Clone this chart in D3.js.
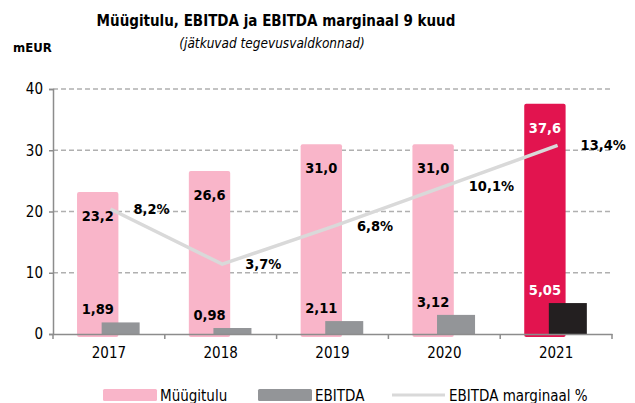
<!DOCTYPE html>
<html>
<head>
<meta charset="utf-8">
<script src="https://cdn.jsdelivr.net/npm/d3@7"></script>
<style>
  body { margin: 0; background: #fff; }
  text { font-family: "DejaVu Sans Condensed", "DejaVu Sans", sans-serif; }
</style>
</head>
<body>
<script>
const years = ["2017", "2018", "2019", "2020", "2021"];
const revenue = [23.2, 26.6, 31.0, 31.0, 37.6];
const ebitda = [1.89, 0.98, 2.11, 3.12, 5.05];
const margin_pct = [8.2, 3.7, 6.8, 10.1, 13.4];
const y_ticks = [0, 10, 20, 30, 40];
const legend_items = ["Müügitulu", "EBITDA", "EBITDA marginaal %"];

const width = 635;
const height = 403;
const margin = { top: 89, right: 23, bottom: 69, left: 53 };

const fmt = (v, d) => v.toFixed(d).replace(".", ",");

const svg = d3.select("body")
  .append("svg")
  .attr("width", width)
  .attr("height", height);

// scales
const xScale = d3.scaleBand()
  .domain(years)
  .range([margin.left, width - margin.right]);
const yScale = d3.scaleLinear()
  .domain([0, 40])
  .range([height - margin.bottom, margin.top]);
// hidden secondary axis for the margin line
const y2Scale = d3.scaleLinear()
  .domain([-2, 18])
  .range([height - margin.bottom, margin.top]);

const bw = xScale.bandwidth();
const pinkW = bw * 0.37;
const grayW = bw * 0.34;
const pinkX = (d) => xScale(d) + bw / 2 - bw * 0.1 - pinkW / 2;
const grayX = (d) => xScale(d) + bw / 2 + bw * 0.105 - grayW / 2;
const ptX = (d) => xScale(d) + bw / 2 + 1.5;

// gridlines
svg.append("g")
  .selectAll("line")
  .data(y_ticks.filter((t) => t > 0))
  .join("line")
  .attr("x1", margin.left)
  .attr("x2", width - margin.right)
  .attr("y1", (d) => yScale(d))
  .attr("y2", (d) => yScale(d))
  .attr("stroke", "#b0b0b0")
  .attr("stroke-width", 1.3)
  .attr("stroke-dasharray", "5,3");

// revenue bars
svg.append("g")
  .selectAll("rect")
  .data(years)
  .join("rect")
  .attr("x", (d) => pinkX(d))
  .attr("y", (d, i) => yScale(revenue[i]))
  .attr("width", pinkW)
  .attr("height", (d, i) => yScale(0) - yScale(revenue[i]) + 3)
  .attr("rx", 2)
  .attr("fill", (d, i) => (i === years.length - 1 ? "#e2144f" : "#f9b5c9"));

// ebitda bars
svg.append("g")
  .selectAll("rect")
  .data(years)
  .join("rect")
  .attr("x", (d) => grayX(d))
  .attr("y", (d, i) => yScale(ebitda[i]))
  .attr("width", grayW)
  .attr("height", (d, i) => yScale(0) - yScale(ebitda[i]))
  .attr("fill", (d, i) => (i === years.length - 1 ? "#231f20" : "#939598"));

// axes
const yAxis = d3.axisLeft(yScale).tickValues(y_ticks).tickSize(4).tickPadding(6);
const gy = svg.append("g")
  .attr("transform", `translate(${margin.left},0)`)
  .call(yAxis);
gy.select(".domain").attr("stroke", "#8c8c8c").attr("stroke-width", 1.5);
gy.selectAll(".tick line").attr("stroke", "#8c8c8c").attr("stroke-width", 1.5);
gy.selectAll(".tick text")
  .attr("fill", "#000")
  .style("font-size", "15px")
  .style("font-family", '"DejaVu Sans Condensed", "DejaVu Sans", sans-serif');

const xAxis = d3.axisBottom(xScale).tickSize(0).tickPadding(13);
const gx = svg.append("g")
  .attr("transform", `translate(0,${yScale(0)})`)
  .call(xAxis);
gx.select(".domain").attr("stroke", "#8c8c8c").attr("stroke-width", 1.5);
gx.selectAll(".tick text")
  .attr("fill", "#000")
  .style("font-size", "15px")
  .style("font-family", '"DejaVu Sans Condensed", "DejaVu Sans", sans-serif');
// category separator ticks
svg.append("g")
  .selectAll("line")
  .data(years.concat(["end"]))
  .join("line")
  .attr("x1", (d) => (d === "end" ? xScale.range()[1] : xScale(d)))
  .attr("x2", (d) => (d === "end" ? xScale.range()[1] : xScale(d)))
  .attr("y1", yScale(0))
  .attr("y2", yScale(0) + 5)
  .attr("stroke", "#8c8c8c")
  .attr("stroke-width", 1.5);

// margin line
const my_line = d3.line()
  .x((d, i) => ptX(years[i]))
  .y((d) => y2Scale(d));
svg.append("path")
  .attr("d", my_line(margin_pct))
  .attr("fill", "none")
  .attr("stroke", "#d9d9d9")
  .attr("stroke-width", 3.5);

// labels
const labels = svg.append("g")
  .style("font-size", "14.5px")
  .style("font-weight", "bold");

labels.selectAll(".rev")
  .data(years)
  .join("text")
  .attr("class", "rev")
  .attr("x", (d) => pinkX(d) + pinkW / 2)
  .attr("y", (d, i) => yScale(revenue[i]) + 29)
  .attr("text-anchor", "middle")
  .attr("fill", (d, i) => (i === years.length - 1 ? "#fff" : "#000"))
  .text((d, i) => fmt(revenue[i], 1));

labels.selectAll(".ebit")
  .data(years)
  .join("text")
  .attr("class", "ebit")
  .attr("x", (d) => pinkX(d) + pinkW / 2)
  .attr("y", (d, i) => yScale(ebitda[i]) - 8)
  .attr("text-anchor", "middle")
  .attr("fill", (d, i) => (i === years.length - 1 ? "#fff" : "#000"))
  .text((d, i) => fmt(ebitda[i], 2));

labels.selectAll(".pct")
  .data(years)
  .join("text")
  .attr("class", "pct")
  .attr("x", (d) => ptX(d) + 23)
  .attr("y", (d, i) => y2Scale(margin_pct[i]) + 5)
  .attr("text-anchor", "start")
  .attr("fill", "#000")
  .text((d, i) => fmt(margin_pct[i], 1) + "%");

// titles
svg.append("text")
  .attr("x", 276)
  .attr("y", 26)
  .attr("text-anchor", "middle")
  .style("font-size", "15px")
  .style("font-weight", "bold")
  .text("Müügitulu, EBITDA ja EBITDA marginaal 9 kuud");
svg.append("text")
  .attr("x", 272)
  .attr("y", 48)
  .attr("text-anchor", "middle")
  .style("font-size", "13.5px")
  .style("font-style", "italic")
  .text("(jätkuvad tegevusvaldkonnad)");
svg.append("text")
  .attr("x", 13)
  .attr("y", 52)
  .style("font-size", "13px")
  .style("font-weight", "bold")
  .text("mEUR");

// legend
const legend = svg.append("g").attr("transform", "translate(0,395)");
const lg = [
  { x: 103, type: "rect", color: "#f9b5c9" },
  { x: 258, type: "rect", color: "#939598" },
  { x: 392, type: "line", color: "#d9d9d9" },
];
lg.forEach((l, i) => {
  if (l.type === "rect") {
    legend.append("rect")
      .attr("x", l.x).attr("y", -6)
      .attr("width", 54).attr("height", 12)
      .attr("rx", 1.5)
      .attr("fill", l.color);
  } else {
    legend.append("line")
      .attr("x1", l.x).attr("x2", l.x + 53)
      .attr("y1", 0).attr("y2", 0)
      .attr("stroke", l.color)
      .attr("stroke-width", 3);
  }
  legend.append("text")
    .attr("x", l.x + 57)
    .attr("y", 5.5)
    .style("font-size", "15px")
    .text(legend_items[i]);
});
</script>
</body>
</html>
